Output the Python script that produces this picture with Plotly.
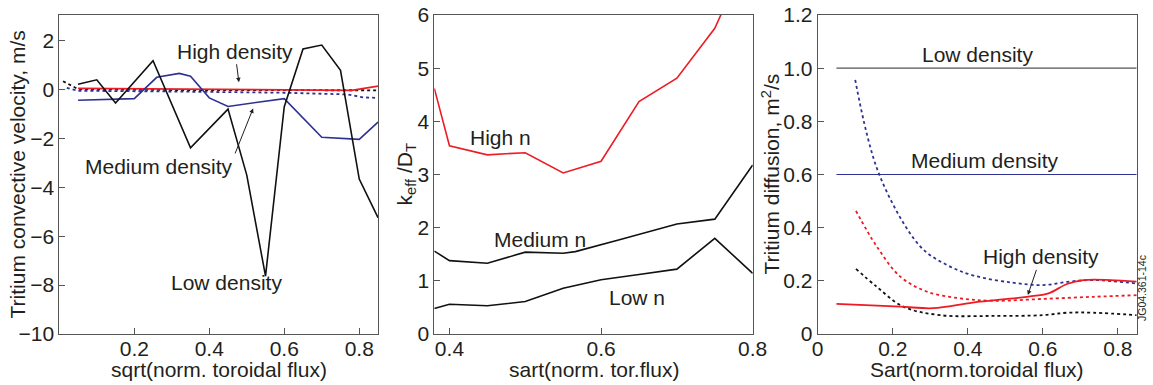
import plotly.graph_objects as go

# ---------------- Panel 1: convective velocity ----------------
v_x_low = [0.05, 0.10, 0.15, 0.25, 0.35, 0.45, 0.50, 0.55, 0.60, 0.65, 0.70, 0.75, 0.80, 0.85]
v_low = [0.22, 0.40, -0.55, 1.18, -2.38, -0.80, -3.50, -7.63, -0.70, 1.66, 1.82, 0.79, -3.66, -5.24]
v_x_med = [0.05, 0.20, 0.26, 0.32, 0.35, 0.40, 0.45, 0.60, 0.70, 0.80, 0.85]
v_med = [-0.44, -0.37, 0.50, 0.66, 0.55, -0.34, -0.69, -0.37, -1.95, -2.04, -1.33]
v_x_high = [0.05, 0.30, 0.60, 0.78, 0.85]
v_high = [0.05, 0.03, 0.00, -0.03, 0.14]
v_x_low_dot = [0.01, 0.05, 0.30, 0.60, 0.85]
v_low_dot = [0.34, 0.02, -0.02, -0.03, -0.03]
v_x_med_dot = [0.02, 0.05, 0.30, 0.60, 0.77, 0.81, 0.85]
v_med_dot = [0.07, -0.05, -0.08, -0.13, -0.20, -0.32, -0.34]

# ---------------- Panel 2: k_eff / D_T ----------------
k_x_high = [0.38, 0.40, 0.45, 0.50, 0.55, 0.60, 0.65, 0.70, 0.75, 0.78]
k_high = [4.62, 3.54, 3.37, 3.41, 3.03, 3.25, 4.37, 4.81, 5.75, 6.70]
k_x_med = [0.38, 0.40, 0.45, 0.50, 0.55, 0.566, 0.623, 0.70, 0.75, 0.80]
k_med = [1.56, 1.38, 1.33, 1.54, 1.52, 1.55, 1.77, 2.07, 2.16, 3.18]
k_x_low = [0.38, 0.40, 0.45, 0.50, 0.55, 0.60, 0.65, 0.70, 0.75, 0.80]
k_low = [0.48, 0.56, 0.53, 0.61, 0.86, 1.02, 1.12, 1.22, 1.80, 1.14]

# ---------------- Panel 3: diffusion ----------------
d_x_const = [0.05, 0.85]
d_low_const = [1.0, 1.0]
d_med_const = [0.6, 0.6]
d_x_med_dot = [0.10, 0.164, 0.273, 0.344, 0.415, 0.52, 0.60, 0.67, 0.735, 0.85]
d_med_dot = [0.956, 0.60, 0.33, 0.26, 0.22, 0.193, 0.184, 0.197, 0.203, 0.19]
d_x_high_dot = [0.102, 0.157, 0.22, 0.29, 0.38, 0.468, 0.60, 0.735, 0.85]
d_high_dot = [0.463, 0.33, 0.216, 0.16, 0.134, 0.125, 0.132, 0.14, 0.146]
d_x_low_dot = [0.102, 0.157, 0.228, 0.326, 0.468, 0.60, 0.664, 0.735, 0.85]
d_low_dot = [0.245, 0.178, 0.103, 0.071, 0.068, 0.071, 0.08, 0.08, 0.071]
d_x_high = [0.05, 0.22, 0.308, 0.413, 0.557, 0.615, 0.664, 0.708, 0.78, 0.85]
d_high = [0.113, 0.103, 0.097, 0.118, 0.14, 0.153, 0.188, 0.203, 0.203, 0.197]

# tick labels
t1x_vals = [0.2, 0.4, 0.6, 0.8]
t1x_text = ["0.2", "0.4", "0.6", "0.8"]
t1y_vals = [-10, -8, -6, -4, -2, 0, 2]
t1y_text = ["\u221210", "\u22128", "\u22126", "\u22124", "\u22122", "0", "2"]
t2x_vals = [0.4, 0.6, 0.8]
t2x_text = ["0.4", "0.6", "0.8"]
t2y_vals = [0, 1, 2, 3, 4, 5, 6]
t2y_text = ["0", "1", "2", "3", "4", "5", "6"]
t3x_vals = [0, 0.2, 0.4, 0.6, 0.8]
t3x_text = ["0", "0.2", "0.4", "0.6", "0.8"]
t3y_vals = [0, 0.2, 0.4, 0.6, 0.8, 1.0, 1.2]
t3y_text = ["0", "0.2", "0.4", "0.6", "0.8", "1.0", "1.2"]

RED = "#ed1c24"
BLUE = "#2e3192"
BLACK = "#111111"
GRAY = "#555555"
TXT = "#231f20"
FONT = "Liberation Sans, Arial, Helvetica, sans-serif"
FS = 21

W, H = 1153, 385

fig = go.Figure()

def add(x, y, color, xa, ya, dash="solid", width=1.6, shape="linear"):
    fig.add_trace(go.Scatter(x=x, y=y, mode="lines", xaxis=xa, yaxis=ya,
                             line=dict(color=color, width=width, dash=dash, shape=shape),
                             showlegend=False, hoverinfo="skip"))

# panel 1
add(v_x_low_dot, v_low_dot, BLACK, "x", "y", dash="dot", width=1.8)
add(v_x_med_dot, v_med_dot, BLUE, "x", "y", dash="dot", width=1.8)
add(v_x_high, v_high, RED, "x", "y", width=1.8)
add(v_x_med, v_med, BLUE, "x", "y")
add(v_x_low, v_low, BLACK, "x", "y")
# panel 2
add(k_x_high, k_high, RED, "x2", "y2")
add(k_x_med, k_med, BLACK, "x2", "y2")
add(k_x_low, k_low, BLACK, "x2", "y2")
# panel 3
add(d_x_const, d_low_const, GRAY, "x3", "y3", width=1.2)
add(d_x_const, d_med_const, BLUE, "x3", "y3", width=1.0)
add(d_x_med_dot, d_med_dot, BLUE, "x3", "y3", dash="dot", width=1.8, shape="spline")
add(d_x_high_dot, d_high_dot, RED, "x3", "y3", dash="dot", width=1.8, shape="spline")
add(d_x_low_dot, d_low_dot, BLACK, "x3", "y3", dash="dot", width=1.8, shape="spline")
add(d_x_high, d_high, RED, "x3", "y3", width=1.8, shape="spline")

def px_x(p):
    return p / W

def px_y(p):
    return 1 - p / H

ytop, ybot = px_y(15), px_y(334)
dom1 = [px_x(59.3), px_x(378)]
dom2 = [px_x(434.3), px_x(752.7)]
dom3 = [px_x(817.7), px_x(1136.7)]

axis_common = dict(showline=True, mirror=True, linecolor=GRAY, linewidth=1,
                   ticks="inside", ticklen=6, tickcolor=GRAY, tickwidth=1,
                   showgrid=False, zeroline=False, automargin=False,
                   ticklabeloverflow="allow",
                   tickfont=dict(size=FS, color=TXT, family=FONT))
xa_common = dict(ticklabelstandoff=-4, **axis_common)

fig.update_layout(
    width=W, height=H,
    margin=dict(l=0, r=0, t=0, b=0, autoexpand=False),
    paper_bgcolor="white", plot_bgcolor="white",
    font=dict(family=FONT, size=FS, color=TXT),
    xaxis=dict(domain=dom1, range=[0, 0.85], tickvals=t1x_vals, ticktext=t1x_text, anchor="y", **xa_common),
    yaxis=dict(domain=[ybot, ytop], range=[-10, 3.05], tickvals=t1y_vals, ticktext=t1y_text, anchor="x", **axis_common),
    xaxis2=dict(domain=dom2, range=[0.38, 0.8], tickvals=t2x_vals, ticktext=t2x_text, anchor="y2", **xa_common),
    yaxis2=dict(domain=[ybot, ytop], range=[0, 6], tickvals=t2y_vals, ticktext=t2y_text, anchor="x2", **axis_common),
    xaxis3=dict(domain=dom3, range=[0, 0.85], tickvals=t3x_vals, ticktext=t3x_text, anchor="y3", **xa_common),
    yaxis3=dict(domain=[ybot, ytop], range=[0, 1.2], tickvals=t3y_vals, ticktext=t3y_text, anchor="x3", **axis_common),
)

ann = []

def label(text, x, y, xref, yref, size=FS, angle=0):
    ann.append(dict(text=text, x=x, y=y, xref=xref, yref=yref, showarrow=False,
                    textangle=angle, xanchor="center", yanchor="middle",
                    font=dict(size=size, color=TXT, family=FONT)))

def arrow_label(text, x, y, ax, ay, xref, yref, xanchor="center", yanchor="middle"):
    ann.append(dict(text=text, x=x, y=y, ax=ax, ay=ay, xref=xref, yref=yref,
                    showarrow=True, arrowhead=2, arrowsize=0.9, arrowwidth=1,
                    arrowcolor=TXT, xanchor=xanchor, yanchor=yanchor,
                    font=dict(size=FS, color=TXT, family=FONT)))

# panel annotations (text with its pointer arrow)
arrow_label("High density", 0.479, 0.30, -4, -31, "x", "y")
arrow_label("Medium density", 0.517, -0.77, -18, 45, "x", "y", xanchor="right", yanchor="top")
label("Low density", 0.445, -7.91, "x", "y")

label("High n", 0.467, 3.70, "x2", "y2")
label("Medium n", 0.52, 1.78, "x2", "y2")
label("Low n", 0.648, 0.69, "x2", "y2")

label("Low density", 0.427, 1.052, "x3", "y3")
label("Medium density", 0.446, 0.652, "x3", "y3")
arrow_label("High density", 0.56, 0.147, 13, -38, "x3", "y3")

# axis titles
label("sqrt(norm. toroidal flux)", px_x(218.7), px_y(369), "paper", "paper")
label("sart(norm. tor.flux)", px_x(593.5), px_y(369), "paper", "paper")
label("Sart(norm.toroidal flux)", px_x(977), px_y(369), "paper", "paper")
label("Tritium convective velocity, m/s", px_x(17), px_y(174.5), "paper", "paper", angle=-90)
label("k<sub>eff</sub> /D<sub>T</sub>", px_x(405), px_y(174.5), "paper", "paper", angle=-90)
label("Tritium diffusion, m<sup>2</sup>/s", px_x(770), px_y(174.5), "paper", "paper", angle=-90)
label("JG04.361-14c", px_x(1142), px_y(288), "paper", "paper", size=10.5, angle=-90)

fig.update_layout(annotations=ann)

fig.write_html("out.html",
               config={"displayModeBar": False},
               post_script="document.body.style.margin='0';document.body.style.overflow='hidden';")
